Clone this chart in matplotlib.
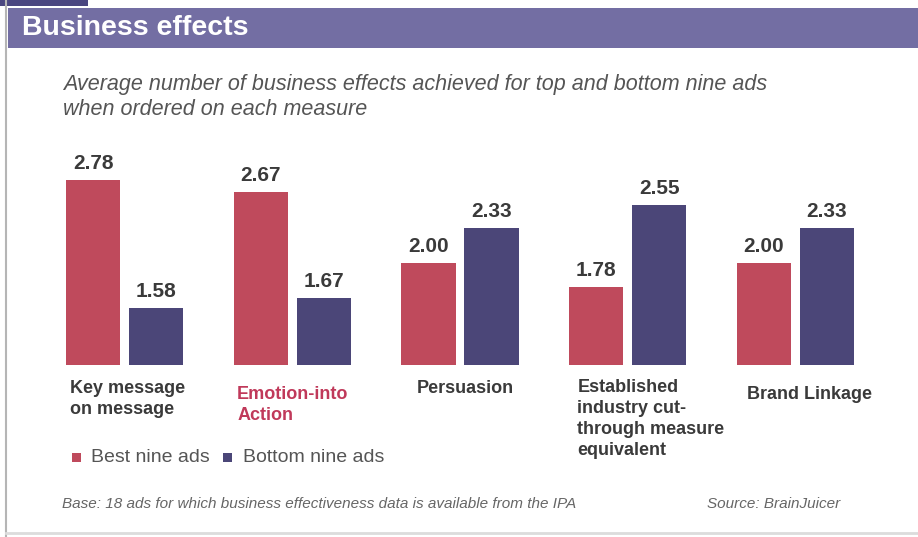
import matplotlib
matplotlib.use("Agg")
import matplotlib.pyplot as plt
import numpy as np
from matplotlib.patches import Rectangle

categories = ["Key message\non message", "Emotion-into\nAction", "Persuasion",
              "Established\nindustry cut-\nthrough measure\nequivalent", "Brand Linkage"]
best_nine = [2.78, 2.67, 2.00, 1.78, 2.00]
bottom_nine = [1.58, 1.67, 2.33, 2.55, 2.33]
series_names = ["Best nine ads", "Bottom nine ads"]
title = "Business effects"
subtitle = "Average number of business effects achieved for top and bottom nine ads\nwhen ordered on each measure"
base_note = "Base: 18 ads for which business effectiveness data is available from the IPA"
source_note = "Source: BrainJuicer"

RED = "#bf4a5c"
BLUE = "#4b4678"
BANNER = "#736ea3"
TEXT = "#3a3a3a"
FONT = ["Liberation Sans", "DejaVu Sans"]

W, H = 918, 537
fig = plt.figure(figsize=(W / 100, H / 100), dpi=100)
fig.patch.set_facecolor("white")

# decorative frame
fig.add_artist(Rectangle((0, 1 - 6 / H), 88 / W, 6 / H, transform=fig.transFigure,
                         facecolor="#4a4680", edgecolor="none"))
fig.add_artist(Rectangle((8 / W, 1 - 48 / H), 1 - 8 / W, 40 / H, transform=fig.transFigure,
                         facecolor=BANNER, edgecolor="none"))
fig.add_artist(plt.Line2D([5.5 / W, 5.5 / W], [0, 1], transform=fig.transFigure,
                          color="#b5b5b5", lw=1.5))
fig.add_artist(plt.Line2D([5.5 / W, 1], [4 / H, 4 / H], transform=fig.transFigure,
                          color="#dcdcdc", lw=2))

fig.text(22 / W, 1 - 28 / H, title, color="white", fontsize=20.5, fontweight="bold",
         family=FONT, va="center", ha="left")
fig.text(63 / W, 1 - 97 / H, subtitle, color="#555555", fontsize=15.5, style="italic",
         family=FONT, va="center", ha="left", linespacing=1.25)

# axes
y0 = 1.046
px_per_unit = 106.7
ytop = 3.0
ax_bottom_px = 365
ax_h_px = (ytop - y0) * px_per_unit
ax = fig.add_axes([41 / W, 1 - ax_bottom_px / H, 838 / W, ax_h_px / H])
ax.set_xlim(-0.5, 4.5)
ax.set_ylim(y0, ytop)
ax.axis("off")

x = np.arange(len(categories))
bw = 0.323
off = 0.188
b1 = ax.bar(x - off, np.array(best_nine) - y0, bw, bottom=y0, color=RED)
b2 = ax.bar(x + off, np.array(bottom_nine) - y0, bw, bottom=y0, color=BLUE)

for bars, vals in ((b1, best_nine), (b2, bottom_nine)):
    for r, v in zip(bars, vals):
        ax.annotate(f"{v:.2f}", (r.get_x() + r.get_width() / 2, v), xytext=(0, 5),
                    textcoords="offset points", ha="center", va="bottom",
                    fontsize=15, fontweight="bold", color=TEXT, family=FONT)

label_colors = [TEXT, "#c0395a", TEXT, TEXT, TEXT]
label_dx = [0.02, 0.02, 0.09, 0.05, 0.06]
label_dy = [-11, -15, -11, -10, -15]
for i, (cat, c) in enumerate(zip(categories, label_colors)):
    ax.annotate(cat, (x[i] - off - bw / 2 + label_dx[i], y0), xytext=(0, label_dy[i]),
                textcoords="offset points", ha="left", va="top", fontsize=13,
                fontweight="bold", color=c, family=FONT, linespacing=1.3)

# legend
fig.add_artist(Rectangle((72 / W, 1 - 462 / H), 9 / W, 9 / H, transform=fig.transFigure,
                         facecolor=RED, edgecolor="none"))
fig.text(91 / W, 1 - 457 / H, series_names[0], color="#555555", fontsize=14,
         family=FONT, va="center", ha="left")
fig.add_artist(Rectangle((223 / W, 1 - 462 / H), 9 / W, 9 / H, transform=fig.transFigure,
                         facecolor=BLUE, edgecolor="none"))
fig.text(243 / W, 1 - 457 / H, series_names[1], color="#555555", fontsize=14,
         family=FONT, va="center", ha="left")

fig.text(62 / W, 1 - 504 / H, base_note, color="#666666", fontsize=11, style="italic",
         family=FONT, va="center", ha="left")
fig.text(707 / W, 1 - 504 / H, source_note, color="#666666", fontsize=11, style="italic",
         family=FONT, va="center", ha="left")

fig.savefig("out.png", dpi=100, facecolor="white")
